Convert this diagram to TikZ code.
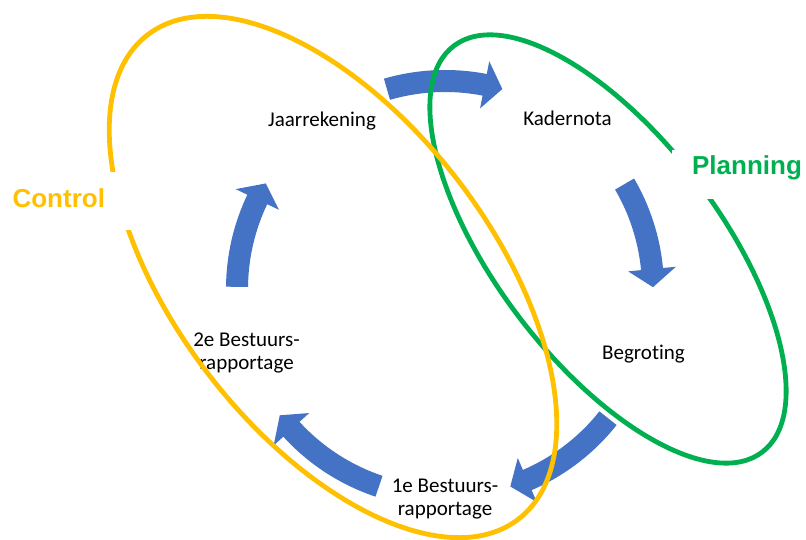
\documentclass[tikz,border=0pt]{standalone}
\usepackage{fontspec}
\setmainfont{Carlito}[Ligatures=NoCommon]
\newfontfamily\headfont{Liberation Sans}
\definecolor{cycblue}{HTML}{4472C4}
\definecolor{ctrlyellow}{HTML}{FFC000}
\definecolor{plangreen}{HTML}{00B050}
% #1 tail angle, #2 tip angle (clockwise arrow on the cycle)
\newcommand{\cycarrow}[2]{%
  \fill[cycblue] (#1:219pt) arc[start angle=#1, end angle={#2+5}, radius=219pt]
    -- ({#2+5}:232pt) -- (#2:208pt) -- ({#2+5}:184pt) -- ({#2+5}:197pt)
    arc[start angle={#2+5}, end angle=#1, radius=197pt] -- cycle;}
\tikzset{
  steplabel/.style={font=\fontsize{21}{22.5}\selectfont, text=black, inner sep=0pt, align=center},
  headlabel/.style={font=\headfont\bfseries\fontsize{26}{30}\selectfont, inner sep=0pt},
  labelbg/.style={fill=white, draw=none, inner sep=0pt},
  ring/.style={line width=4.8pt}
}
\begin{document}
\begin{tikzpicture}[x=1pt,y=1pt]
\useasboundingbox[fill=white] (0,0) rectangle (806,540);
\coordinate (cyc) at (445,251);
% cycle arrows
\begin{scope}[shift={(cyc)}]
  \cycarrow{106.2}{74}
  \cycarrow{30.3}{0.5}
  \cycarrow{-38.4}{-71.7}
  \cycarrow{-108.5}{-142.6}
  \cycarrow{179.4}{149.5}
\end{scope}
% step labels
\node[steplabel, anchor=base] (jaar) at (322,413.3) {Jaarrekening};
\node[steplabel, anchor=base] (kader) at (567.5,414) {Kadernota};
\node[steplabel, anchor=base] (begr) at (643.5,180.7) {Begroting};
\node[steplabel, anchor=base] (bestuur1) at (445,24.5) {1e Bestuurs-\\rapportage};
\node[steplabel, anchor=base] (bestuur2) at (246.5,170.5) {2e Bestuurs-\\rapportage};
% ellipses
\coordinate (planc) at (608,291);
\coordinate (ctrlc) at (333,263);
\draw[ring, plangreen, shift={(planc)}, rotate=-52.8] (0,0) ellipse[x radius=255pt, y radius=112pt];
\draw[ring, ctrlyellow, shift={(ctrlc)}, rotate=-52.6] (0,0) ellipse[x radius=305pt, y radius=158pt];
% headings with white backgrounds
\node[labelbg, minimum width=140pt, minimum height=58pt] (controlbg) at (70,339) {};
\node[headlabel, text=ctrlyellow, anchor=base] (control) at (58.8,332.3) {Control};
\node[labelbg, minimum width=134pt, minimum height=49pt] (planbg) at (739,365.5) {};
\node[headlabel, text=plangreen, anchor=base] (planning) at (747,365) {Planning};
\end{tikzpicture}
\end{document}
